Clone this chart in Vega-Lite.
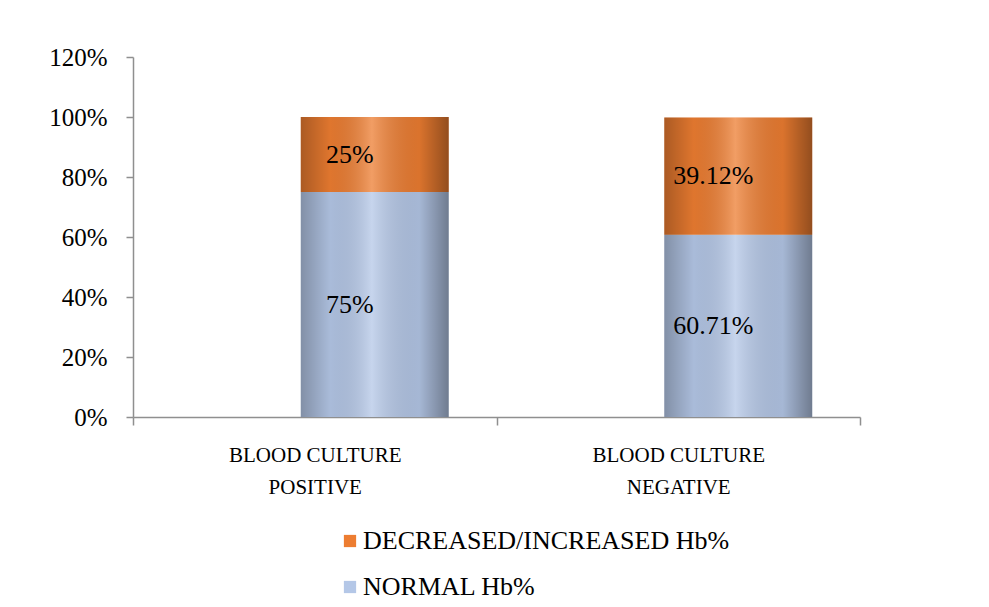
{
  "$schema": "https://vega.github.io/schema/vega-lite/v6.json",
  "autosize": {"type": "none"},
  "padding": {"left": 133, "top": 57, "right": 129, "bottom": 190},
  "width": 727,
  "height": 360,
  "background": "white",
  "config": {
    "view": {"stroke": null},
    "font": "Liberation Serif",
    "axis": {"labelFont": "Liberation Serif", "labelColor": "black", "domainColor": "#8f8f8f", "tickColor": "#8f8f8f", "domainWidth": 1.5, "tickWidth": 1.5, "grid": false, "title": null, "labelLimit": 0},
    "legend": {"labelFont": "Liberation Serif", "labelLimit": 0}
  },
  "data": {
    "values": [
      {"group": "BLOOD CULTURE POSITIVE", "series": "NORMAL Hb%", "value": 75},
      {"group": "BLOOD CULTURE POSITIVE", "series": "DECREASED/INCREASED Hb%", "value": 25},
      {"group": "BLOOD CULTURE NEGATIVE", "series": "NORMAL Hb%", "value": 60.71},
      {"group": "BLOOD CULTURE NEGATIVE", "series": "DECREASED/INCREASED Hb%", "value": 39.12}
    ]
  },
  "encoding": {
    "x": {
      "field": "group",
      "type": "nominal",
      "sort": null,
      "scale": {"paddingInner": 0, "paddingOuter": 0},
      "axis": {
        "labelAngle": 0,
        "labelFontSize": 21,
        "labelLineHeight": 32,
        "labelPadding": 19,
        "tickSize": 8,
        "tickBand": "extent",
        "labelExpr": "[slice(datum.label, 0, 13), slice(datum.label, 14)]"
      }
    }
  },
  "layer": [
    {
      "mark": {"type": "bar", "width": {"band": 0.407}, "xOffset": 60},
      "encoding": {
        "y": {
          "field": "value",
          "type": "quantitative",
          "stack": "zero",
          "scale": {"domain": [0, 120], "nice": false},
          "axis": {
            "values": [0, 20, 40, 60, 80, 100, 120],
            "labelExpr": "datum.value + '%'",
            "labelFontSize": 25,
            "labelPadding": 19,
            "tickSize": 7
          }
        },
        "color": {
          "field": "series",
          "type": "nominal",
          "scale": {
            "domain": ["DECREASED/INCREASED Hb%", "NORMAL Hb%"],
            "range": ["#ED7D31", "#B4C7E7"]
          },
          "legend": {
            "title": null,
            "orient": "none",
            "legendX": 204,
            "legendY": 471,
            "direction": "vertical",
            "symbolType": "square",
            "symbolSize": 150,
            "symbolStrokeWidth": 0,
            "labelFontSize": 26,
            "labelColor": "black",
            "labelOffset": 0,
            "rowPadding": 20,
            "padding": 0
          }
        },
        "order": {"field": "series", "sort": "descending"}
      }
    },
    {
      "mark": {
        "type": "bar",
        "width": {"band": 0.407},
        "xOffset": 60,
        "stroke": null,
        "fill": {
          "gradient": "linear",
          "x1": 0, "y1": 0, "x2": 1, "y2": 0,
          "stops": [
            {"offset": 0, "color": "rgba(0,0,0,0.28)"},
            {"offset": 0.2, "color": "rgba(0,0,0,0.06)"},
            {"offset": 0.48, "color": "rgba(255,255,255,0.25)"},
            {"offset": 0.8, "color": "rgba(0,0,0,0.08)"},
            {"offset": 1, "color": "rgba(0,0,0,0.38)"}
          ]
        }
      },
      "encoding": {
        "y": {"aggregate": "sum", "field": "value", "type": "quantitative"}
      }
    },
    {
      "transform": [{"calculate": "datum.value + '%'", "as": "label"}],
      "mark": {"type": "text", "xOffset": 35, "fontSize": 26, "color": "black", "font": "Liberation Serif"},
      "encoding": {
        "y": {"field": "value", "type": "quantitative", "stack": "zero", "bandPosition": 0.5},
        "text": {"field": "label"},
        "order": {"field": "series", "sort": "descending"}
      }
    }
  ]
}
